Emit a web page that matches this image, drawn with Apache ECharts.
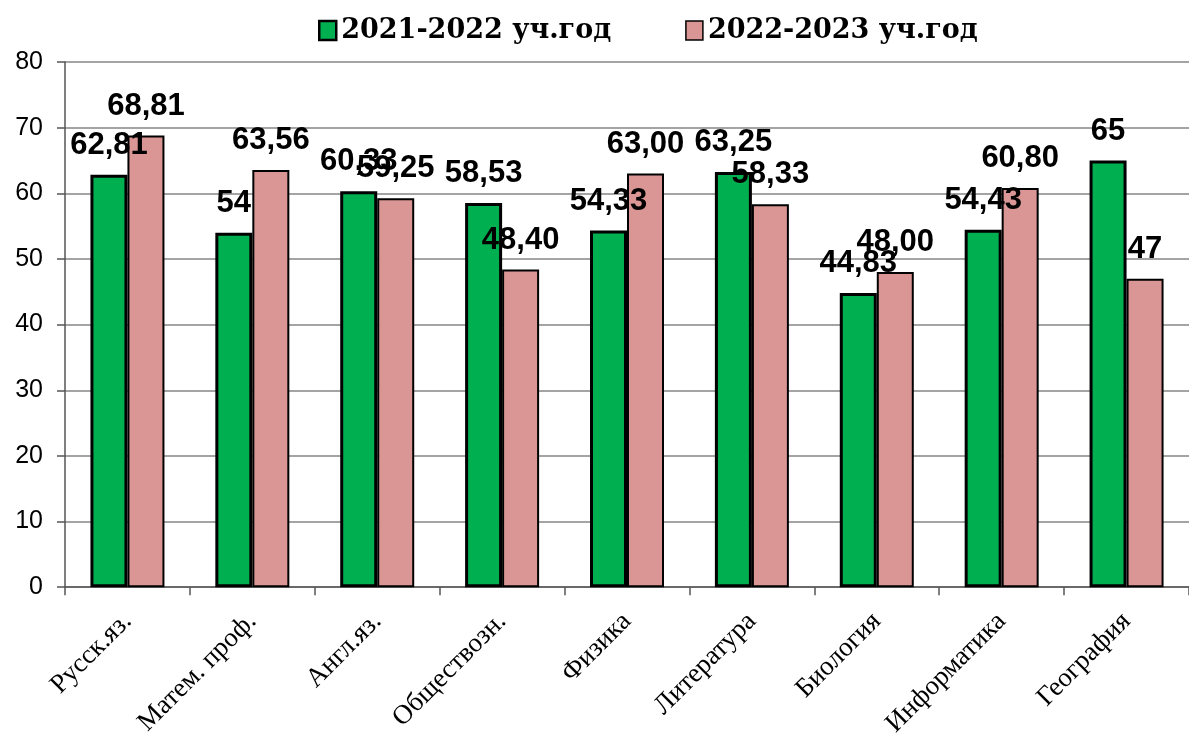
<!DOCTYPE html>
<html>
<head>
<meta charset="utf-8">
<script src="https://cdn.jsdelivr.net/npm/echarts@6/dist/echarts.min.js"></script>
<style>
html,body{margin:0;padding:0;background:#fff;}
#c{width:1189px;height:740px;}
</style>
</head>
<body>
<div id="c"></div>
<script>
const categories = ['Русск.яз.', 'Матем. проф.', 'Англ.яз.', 'Обществозн.', 'Физика', 'Литература', 'Биология', 'Информатика', 'География'];
const seriesNames = ['2021-2022 уч.год', '2022-2023 уч.год'];
const values2122 = [62.81, 54, 60.33, 58.53, 54.33, 63.25, 44.83, 54.43, 65];
const values2223 = [68.81, 63.56, 59.25, 48.40, 63.00, 58.33, 48.00, 60.80, 47];
const labels2122 = ['62,81', '54', '60,33', '58,53', '54,33', '63,25', '44,83', '54,43', '65'];
const labels2223 = ['68,81', '63,56', '59,25', '48,40', '63,00', '58,33', '48,00', '60,80', '47'];
const yTicks = [0, 10, 20, 30, 40, 50, 60, 70, 80];

const chart = echarts.init(document.getElementById('c'), null, {renderer: 'canvas'});

function labelCfg(texts) {
  return {
    show: true,
    position: 'top',
    distance: 14,
    formatter: p => texts[p.dataIndex],
    fontFamily: 'Liberation Sans, Arial, sans-serif',
    fontWeight: 'bold',
    fontSize: 31,
    color: '#000'
  };
}

chart.setOption({
  animation: false,
  backgroundColor: '#fff',
  legend: {
    top: 12,
    left: 313,
    itemGap: 74,
    itemWidth: 17,
    itemHeight: 19,
    icon: 'rect',
    textStyle: {fontFamily: 'DejaVu Serif', fontWeight: 'bold', fontSize: 27, color: '#000'},
    data: [
      {name: seriesNames[0], itemStyle: {color: '#00B050', borderColor: '#000', borderWidth: 2.5}},
      {name: seriesNames[1], itemStyle: {color: '#D99694', borderColor: '#000', borderWidth: 1.5}}
    ]
  },
  grid: {left: 65, right: -9, top: 62, bottom: 152, containLabel: false},
  xAxis: {
    type: 'category',
    data: categories,
    axisLine: {lineStyle: {color: '#555', width: 1.5}},
    axisTick: {show: true, length: 8, lineStyle: {color: '#555', width: 1.5}},
    axisLabel: {
      rotate: 45,
      margin: 30,
      interval: 0,
      fontFamily: 'Liberation Serif, Times New Roman, serif',
      fontSize: 27,
      color: '#000'
    }
  },
  yAxis: {
    type: 'value',
    min: 0,
    max: 80,
    interval: 10,
    axisLine: {show: true, lineStyle: {color: '#555', width: 1.5}},
    axisTick: {show: true, length: 8, lineStyle: {color: '#555', width: 1.5}},
    splitLine: {lineStyle: {color: '#868686', width: 1.5}},
    axisLabel: {
      margin: 22,
      fontFamily: 'Liberation Sans, Arial, sans-serif',
      fontSize: 25,
      color: '#000',
      formatter: v => yTicks.includes(v) ? String(v) : ''
    }
  },
  series: [
    {
      name: seriesNames[0],
      type: 'bar',
      data: values2122,
      barWidth: 37,
      barGap: '0%',
      itemStyle: {color: '#00B050', borderColor: '#000', borderWidth: 3},
      label: labelCfg(labels2122),
      z: 2
    },
    {
      name: seriesNames[1],
      type: 'bar',
      data: values2223,
      barWidth: 37,
      barGap: '0%',
      itemStyle: {color: '#D99694', borderColor: '#000', borderWidth: 2},
      label: labelCfg(labels2223),
      z: 2
    }
  ]
});
</script>
</body>
</html>
